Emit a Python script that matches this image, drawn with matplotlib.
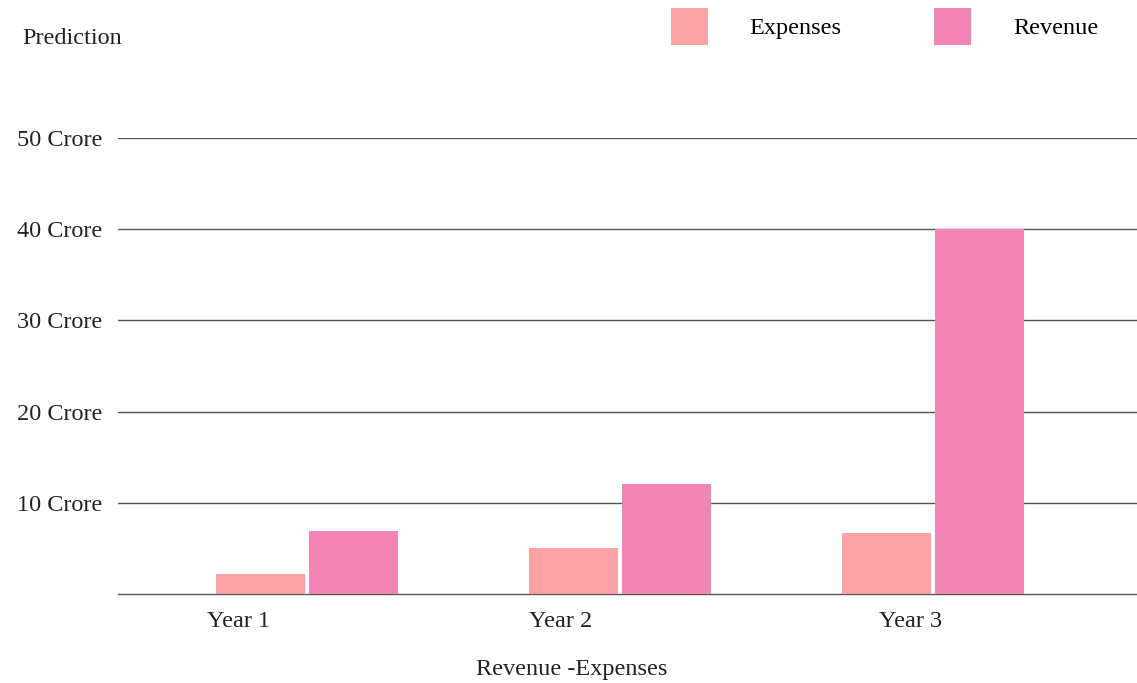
import numpy as np
import matplotlib.pyplot as plt

years = ['Year 1', 'Year 2', 'Year 3']
expenses = [2.2, 5.0, 6.7]
revenue = [6.9, 12.1, 40.0]
ytick_vals = [10, 20, 30, 40, 50]
ytick_labels = ['10 Crore', '20 Crore', '30 Crore', '40 Crore', '50 Crore']

c_exp = '#FAA2A5'
c_rev = '#F385B4'
plt.rcParams['font.family'] = ['Liberation Serif', 'DejaVu Serif']
plt.rcParams['font.size'] = 17.5

fig = plt.figure(figsize=(11.37, 6.83), dpi=100)
ax = fig.add_axes([0.1038, 0.1303, 0.8962, 0.6677])

x = np.arange(len(years))
w = 0.284
off = 0.149
ax.bar(x - off, expenses, w, color=c_exp, label='Expenses', zorder=3)
ax.bar(x + off, revenue, w, color=c_rev, label='Revenue', zorder=3)

ax.set_xlim(-0.604, 2.652)
ax.set_ylim(0, 50)
ax.set_yticks(ytick_vals, ytick_labels)
ax.tick_params(axis='y', length=0, pad=11, labelcolor='#222222')
# year labels sit a bit left of the bar pairs in the original
ax.set_xticks(x + np.array([-0.22, -0.19, -0.07]), years)
ax.tick_params(axis='x', length=0, pad=12, labelcolor='#222222')

ax.grid(axis='y', color='#555555', linewidth=1, zorder=0)
for s in ['top', 'right', 'left']:
    ax.spines[s].set_visible(False)
ax.spines['bottom'].set_color('#555555')
ax.spines['bottom'].set_linewidth(1)

fig.text(22 / 1137, 1 - 39 / 683, 'Prediction', ha='left', va='center', color='#222222')
fig.text(572 / 1137, 1 - 669 / 683, 'Revenue -Expenses', ha='center', va='center', color='#222222')

fig.legend(loc='upper left', bbox_to_anchor=(671 / 1137, 1 - 8 / 683), ncol=2, frameon=False,
           borderpad=0, borderaxespad=0, handlelength=1.52, handleheight=1.95,
           handletextpad=1.72, columnspacing=3.8)

fig.savefig('out.png', dpi=100, facecolor='white')
